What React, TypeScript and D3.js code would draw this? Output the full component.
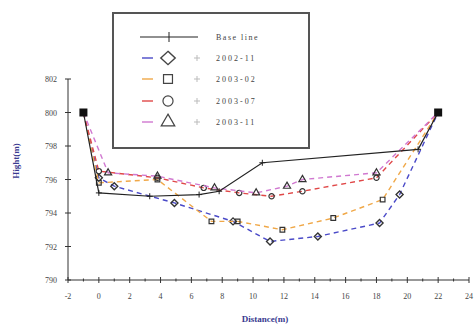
import React, { useEffect, useRef } from 'react';
import * as d3 from 'd3';

// base line and the four survey dates, [distance, height]
const baseLine: [number, number][] = [
  [-1, 800], [0, 795.2], [3.3, 795.0], [6.5, 795.1], [7.8, 795.3], [10.6, 797.0], [20.7, 797.8], [22, 800],
];
const s200211: [number, number][] = [
  [-1, 800], [0, 796.1], [1, 795.6], [4.9, 794.6], [8.7, 793.5], [11.1, 792.3], [14.2, 792.6], [18.2, 793.4], [19.5, 795.1], [22, 800],
];
const s200302: [number, number][] = [
  [-1, 800], [0, 795.8], [3.8, 796.0], [7.3, 793.5], [9, 793.5], [11.9, 793.0], [15.2, 793.7], [18.4, 794.8], [22, 800],
];
const s200307: [number, number][] = [
  [-1, 800], [0, 796.5], [3.8, 796.1], [6.8, 795.5], [9.1, 795.2], [11.2, 795.0], [13.2, 795.3], [18.0, 796.1], [22, 800],
];
const s200311: [number, number][] = [
  [-1, 800], [0.6, 796.4], [3.8, 796.2], [7.5, 795.5], [10.2, 795.2], [12.2, 795.6], [13.2, 796.0], [18, 796.4], [22, 800],
];
const seriesNames = ['2002-11', '2003-02', '2003-07', '2003-11'];
const seriesData = [s200211, s200302, s200307, s200311];
const seriesColors = ['#4a4ac8', '#f0a848', '#e04848', '#d078d0'];
const xTicks = d3.range(-2, 25, 2);
const yTicks = d3.range(790, 803, 2);

const W = 476;
const H = 327;

const markerPath = (i: number, size: number) => {
  if (i === 0) return d3.symbol(d3.symbolDiamond, size)();
  if (i === 1) return d3.symbol(d3.symbolSquare, size)();
  if (i === 2) return d3.symbol(d3.symbolCircle, size)();
  return d3.symbol(d3.symbolTriangle, size)();
};

const App = () => {
  const ref = useRef<SVGSVGElement>(null);

  useEffect(() => {
    const svg = d3.select(ref.current);
    svg.selectAll('*').remove();

    const x = d3.scaleLinear().domain([-2, 24]).range([68, 469]);
    const y = d3.scaleLinear().domain([790, 802]).range([280, 79]);

    // axes
    const ax = svg.append('g').attr('stroke', '#333').attr('stroke-width', 1);
    ax.append('line').attr('x1', x(-2)).attr('x2', x(24)).attr('y1', y(790)).attr('y2', y(790));
    ax.append('line').attr('x1', x(-2)).attr('x2', x(-2)).attr('y1', y(790)).attr('y2', y(802));
    d3.range(-2, 25, 1).forEach((v) => {
      const len = v % 2 === 0 ? 3 : 1.5;
      ax.append('line').attr('x1', x(v)).attr('x2', x(v)).attr('y1', y(790) - len).attr('y2', y(790) + len);
    });
    yTicks.forEach((v) => {
      ax.append('line').attr('x1', x(-2) - 3).attr('x2', x(-2) + 3).attr('y1', y(v)).attr('y2', y(v));
    });

    const font = "'Liberation Serif', 'DejaVu Serif', serif";
    svg.append('g').selectAll('text').data(xTicks).join('text')
      .attr('x', (d) => x(d)).attr('y', 299)
      .attr('text-anchor', 'middle')
      .attr('font-family', font).attr('font-size', 8).attr('fill', '#444')
      .text((d) => d);
    svg.append('g').selectAll('text').data(yTicks).join('text')
      .attr('x', 57).attr('y', (d) => y(d) + 3)
      .attr('text-anchor', 'end')
      .attr('font-family', font).attr('font-size', 8).attr('fill', '#444')
      .text((d) => d);

    svg.append('text')
      .attr('x', 265).attr('y', 322)
      .attr('text-anchor', 'middle')
      .attr('font-family', font).attr('font-size', 9).attr('font-weight', 'bold').attr('fill', '#3a3a90')
      .text('Distance(m)');
    svg.append('text')
      .attr('transform', 'translate(19,161) rotate(-90)')
      .attr('text-anchor', 'middle')
      .attr('font-family', font).attr('font-size', 9).attr('font-weight', 'bold').attr('fill', '#3a3a90')
      .text('Hight(m)');

    const line = d3.line<[number, number]>().x((d) => x(d[0])).y((d) => y(d[1]));

    // survey series, dashed
    seriesData.forEach((data, i) => {
      svg.append('path').datum(data)
        .attr('d', line).attr('fill', 'none')
        .attr('stroke', seriesColors[i]).attr('stroke-width', 1.4)
        .attr('stroke-dasharray', '5,4');
      svg.append('g').selectAll('path').data(data.slice(1, -1)).join('path')
        .attr('transform', (d) => `translate(${x(d[0])},${y(d[1])})${i === 0 ? ' scale(1.4,0.8)' : ''}`)
        .attr('d', markerPath(i, 22))
        .attr('fill', 'none').attr('stroke', '#333').attr('stroke-width', 1.2);
    });

    // base line
    svg.append('path').datum(baseLine)
      .attr('d', line).attr('fill', 'none').attr('stroke', '#222').attr('stroke-width', 1.2);
    svg.append('g').selectAll('path').data(baseLine.slice(1, -1)).join('path')
      .attr('transform', (d) => `translate(${x(d[0])},${y(d[1])})`)
      .attr('d', 'M-3,0H3M0,-3V3')
      .attr('stroke', '#222').attr('stroke-width', 1);
    svg.append('g').selectAll('rect').data([baseLine[0], baseLine[baseLine.length - 1]]).join('rect')
      .attr('x', (d) => x(d[0]) - 4).attr('y', (d) => y(d[1]) - 4)
      .attr('width', 8).attr('height', 8).attr('fill', '#111');

    // legend
    const lg = svg.append('g');
    lg.append('rect').attr('x', 113).attr('y', 13).attr('width', 196).attr('height', 135)
      .attr('fill', 'white').attr('stroke', '#555').attr('stroke-width', 2);
    const rowY = [37, 58, 79, 101, 122];
    lg.append('line').attr('x1', 140).attr('x2', 198).attr('y1', rowY[0]).attr('y2', rowY[0])
      .attr('stroke', '#222').attr('stroke-width', 1.2);
    lg.append('path').attr('d', `M169,${rowY[0] - 5}V${rowY[0] + 5}`).attr('stroke', '#222');
    lg.append('text').attr('x', 216).attr('y', rowY[0] + 3)
      .attr('font-family', font).attr('font-size', 8).attr('letter-spacing', 1.5).attr('fill', '#444')
      .text('Base line');
    seriesNames.forEach((name, i) => {
      const ry = rowY[i + 1];
      lg.append('line').attr('x1', 142).attr('x2', 153).attr('y1', ry).attr('y2', ry)
        .attr('stroke', seriesColors[i]).attr('stroke-width', 1.4);
      lg.append('path')
        .attr('transform', `translate(168,${ry})${i === 0 ? ' scale(1.5,0.8)' : ''}`)
        .attr('d', markerPath(i, 80))
        .attr('fill', 'none').attr('stroke', '#444').attr('stroke-width', 1.2);
      lg.append('path').attr('d', `M194,${ry}H200M197,${ry - 3}V${ry + 3}`)
        .attr('stroke', '#bbb').attr('stroke-width', 1);
      lg.append('text').attr('x', 216).attr('y', ry + 3)
        .attr('font-family', font).attr('font-size', 8).attr('letter-spacing', 2).attr('fill', '#444')
        .text(name);
    });
  }, []);

  return (
    <svg
      ref={ref}
      width={W}
      height={H}
      style={{ position: 'absolute', left: 0, top: 0, background: 'white' }}
    />
  );
};

export default App;
